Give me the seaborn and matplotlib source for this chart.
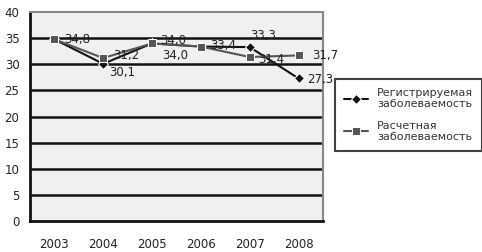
import matplotlib
matplotlib.use("Agg")
import matplotlib.pyplot as plt
import pandas as pd
import seaborn as sns
from matplotlib.ticker import FixedLocator

years = ["2003", "2004", "2005", "2006", "2007", "2008"]
registered = [34.8, 30.1, 34.0, 33.4, 33.3, 27.3]
estimated = [34.8, 31.2, 34.0, 33.4, 31.4, 31.7]
names = ["Регистрируемая\nзаболеваемость", "Расчетная\nзаболеваемость"]

df = pd.DataFrame({
    "Год": years * 2,
    "Значение": registered + estimated,
    "Ряд": [names[0]] * 6 + [names[1]] * 6,
})

sns.set_style("white")
plt.rcParams["font.family"] = ["DejaVu Sans"]

fig = plt.figure(figsize=(4.82, 2.52), dpi=100)
ax = fig.add_axes([0.062, 0.123, 0.608, 0.829])
ax.set_facecolor("#f0f0f0")

sns.lineplot(data=df, x="Год", y="Значение", hue="Ряд", style="Ряд",
             palette={names[0]: "#111111", names[1]: "#555555"},
             markers={names[0]: "D", names[1]: "s"}, dashes=False,
             markersize=5.5, linewidth=1.5, ax=ax, legend=True)

ax.set_ylim(0, 40)
ax.set_xlim(-0.5, 5.5)
ax.set_yticks(range(0, 45, 5))
for y in range(5, 40, 5):
    ax.axhline(y, color="#111111", lw=1.8, zorder=0)

ax.set_xticks(range(6))
ax.set_xticklabels(years)
ax.xaxis.set_minor_locator(FixedLocator([i - 0.5 for i in range(7)]))
ax.tick_params(axis="x", which="major", length=0, pad=12, labelsize=8.5, colors="#222222")
ax.tick_params(axis="x", which="minor", length=4, width=1.5, color="#111111", direction="out")
ax.tick_params(axis="y", length=4, width=1.5, labelsize=8.5, colors="#222222", direction="out")
ax.set_xlabel("")
ax.set_ylabel("")

for side in ["top", "right"]:
    ax.spines[side].set_color("#888888")
    ax.spines[side].set_linewidth(1.5)
for side in ["left", "bottom"]:
    ax.spines[side].set_color("#111111")
    ax.spines[side].set_linewidth(2)

def fmt(v):
    return f"{v:.1f}".replace(".", ",")

offsets_reg = [None, (4, -6), (7, -9), None, (0, 8), (6, -1)]
offsets_est = [(7, 0), (7, 2), (6, 2), (7, 1), (6, -2), (10, 0)]
for i, v in enumerate(registered):
    if offsets_reg[i] is None:
        continue
    ax.annotate(fmt(v), (i, v), xytext=offsets_reg[i], textcoords="offset points",
                fontsize=8.5, color="#222222", va="center")
for i, v in enumerate(estimated):
    ax.annotate(fmt(v), (i, v), xytext=offsets_est[i], textcoords="offset points",
                fontsize=8.5, color="#222222", va="center")

leg = ax.legend(loc="upper left", bbox_to_anchor=(1.04, 0.68), frameon=True,
                fontsize=8, handlelength=2.2, labelspacing=1.0, fancybox=False,
                borderaxespad=0, borderpad=0.8)
leg.get_frame().set_edgecolor("#111111")
leg.get_frame().set_linewidth(1.5)
for t in leg.get_texts():
    t.set_color("#333333")

fig.savefig("out.png", dpi=100)
